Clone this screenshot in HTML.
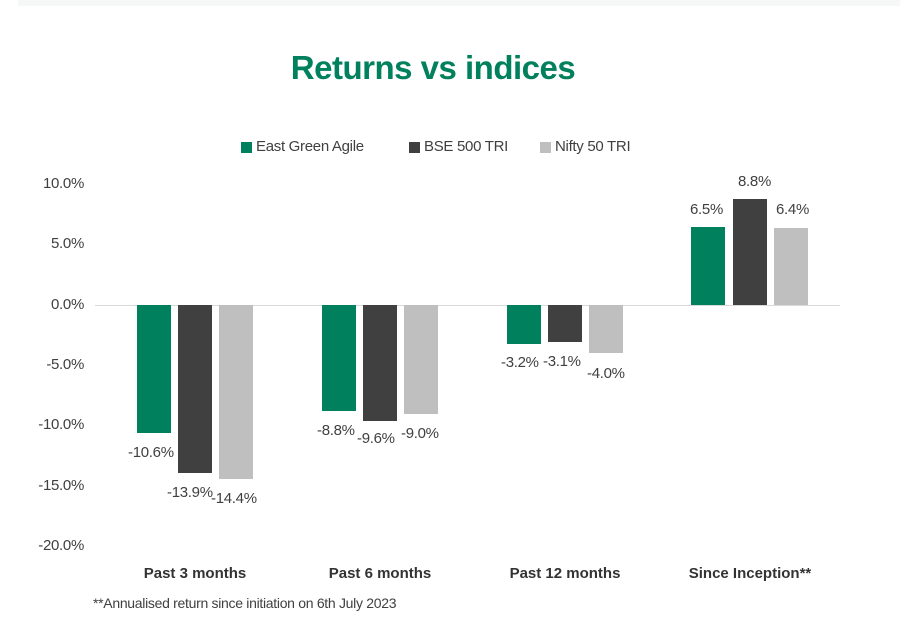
<!DOCTYPE html><html><head><style>
body{margin:0;width:900px;height:636px;background:#fff;position:relative;overflow:hidden;font-family:"Liberation Sans",sans-serif;color:#404040}
.a{position:absolute}
.t{position:absolute;font-size:15px;white-space:nowrap;letter-spacing:-0.3px}
.yl{position:absolute;left:20px;width:64px;text-align:right;font-size:15px;letter-spacing:-0.3px}
.b{position:absolute;width:34px}
.g{background:#00805c}.d{background:#404040}.l{background:#bfbfbf}
.c{position:absolute;font-size:15px;font-weight:bold;text-align:center;width:200px;color:#333}
</style></head><body>
<div class="a" style="left:18px;top:0;width:882px;height:6px;background:#f6f7f7"></div>
<div class="a" style="left:0;top:49px;width:866px;text-align:center;font-size:33px;font-weight:bold;color:#00805c;letter-spacing:-0.5px">Returns vs indices</div>
<div class="a" style="left:241px;top:142px;width:11px;height:11px;background:#00805c"></div><div class="t" style="left:256px;top:138px">East Green Agile</div>
<div class="a" style="left:409px;top:142px;width:11px;height:11px;background:#404040"></div><div class="t" style="left:424px;top:138px">BSE 500 TRI</div>
<div class="a" style="left:540px;top:142px;width:11px;height:11px;background:#bfbfbf"></div><div class="t" style="left:555px;top:138px">Nifty 50 TRI</div>
<div class="yl" style="top:175px">10.0%</div>
<div class="yl" style="top:235px">5.0%</div>
<div class="yl" style="top:296px">0.0%</div>
<div class="yl" style="top:356px">-5.0%</div>
<div class="yl" style="top:416px">-10.0%</div>
<div class="yl" style="top:477px">-15.0%</div>
<div class="yl" style="top:537px">-20.0%</div>
<div class="a" style="left:95px;top:305px;width:745px;height:1px;background:#d9d9d9"></div>
<div class="b g" style="left:137px;top:305px;height:128px"></div>
<div class="b d" style="left:178px;top:305px;height:168px"></div>
<div class="b l" style="left:219px;top:305px;height:174px"></div>
<div class="b g" style="left:322px;top:305px;height:106px"></div>
<div class="b d" style="left:363px;top:305px;height:116px"></div>
<div class="b l" style="left:404px;top:305px;height:109px"></div>
<div class="b g" style="left:507px;top:305px;height:39px"></div>
<div class="b d" style="left:548px;top:305px;height:37px"></div>
<div class="b l" style="left:589px;top:305px;height:48px"></div>
<div class="b g" style="left:691px;top:227px;height:78px"></div>
<div class="b d" style="left:733px;top:199px;height:106px"></div>
<div class="b l" style="left:774px;top:228px;height:77px"></div>
<div class="t" style="left:128px;top:444px">-10.6%</div>
<div class="t" style="left:167px;top:484px">-13.9%</div>
<div class="t" style="left:211px;top:490px">-14.4%</div>
<div class="t" style="left:317px;top:422px">-8.8%</div>
<div class="t" style="left:357px;top:430px">-9.6%</div>
<div class="t" style="left:401px;top:425px">-9.0%</div>
<div class="t" style="left:501px;top:354px">-3.2%</div>
<div class="t" style="left:543px;top:353px">-3.1%</div>
<div class="t" style="left:587px;top:365px">-4.0%</div>
<div class="t" style="left:690px;top:201px">6.5%</div>
<div class="t" style="left:738px;top:173px">8.8%</div>
<div class="t" style="left:776px;top:201px">6.4%</div>
<div class="c" style="left:95px;top:565px">Past 3 months</div>
<div class="c" style="left:280px;top:565px">Past 6 months</div>
<div class="c" style="left:465px;top:565px">Past 12 months</div>
<div class="c" style="left:650px;top:565px">Since Inception**</div>
<div class="t" style="left:93px;top:595px;font-size:14px">**Annualised return since initiation on 6th July 2023</div>
</body></html>
